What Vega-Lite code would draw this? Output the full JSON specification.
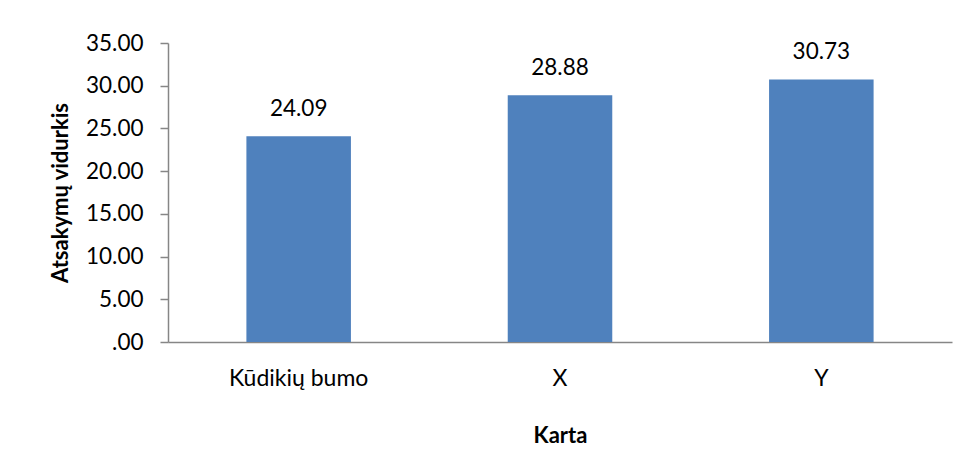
{
  "$schema": "https://vega.github.io/schema/vega-lite/v6.json",
  "width": 784,
  "height": 299,
  "autosize": {"type": "none"},
  "padding": {"left": 168, "top": 43, "right": 15, "bottom": 118},
  "background": "white",
  "config": {
    "view": {"stroke": null},
    "font": "Lato"
  },
  "data": {
    "values": [
      {"Karta": "Kūdikių bumo", "vidurkis": 24.09},
      {"Karta": "X", "vidurkis": 28.88},
      {"Karta": "Y", "vidurkis": 30.73}
    ]
  },
  "encoding": {
    "x": {
      "field": "Karta",
      "type": "nominal",
      "sort": null,
      "scale": {"paddingInner": 0.6, "paddingOuter": 0.3},
      "axis": {
        "title": "Karta",
        "labelAngle": 0,
        "labelFont": "Lato",
        "labelFontSize": 23,
        "labelColor": "#000000",
        "labelBaseline": "alphabetic",
        "labelPadding": 43,
        "ticks": false,
        "tickSize": 0,
        "domainColor": "#868686",
        "domainWidth": 1.5,
        "titleFont": "Lato",
        "titleFontSize": 22,
        "titleFontWeight": "bold",
        "titleColor": "#000000",
        "titleBaseline": "alphabetic",
        "titleY": 100
      }
    },
    "y": {
      "field": "vidurkis",
      "type": "quantitative",
      "scale": {"domain": [0, 35]},
      "axis": {
        "title": "Atsakymų vidurkis",
        "values": [0, 5, 10, 15, 20, 25, 30, 35],
        "labelExpr": "datum.value == 0 ? '.00' : format(datum.value, '.2f')",
        "labelFont": "Lato",
        "labelFontSize": 22.5,
        "labelColor": "#000000",
        "labelPadding": 17,
        "tickSize": 8,
        "tickColor": "#868686",
        "tickWidth": 1.5,
        "domainColor": "#868686",
        "domainWidth": 1.5,
        "grid": false,
        "titleFont": "Lato",
        "titleFontSize": 22,
        "titleFontWeight": "bold",
        "titleColor": "#000000",
        "titleBaseline": "middle",
        "titleX": -108
      }
    }
  },
  "layer": [
    {
      "mark": {"type": "bar", "color": "#4F81BD"}
    },
    {
      "mark": {"type": "text", "baseline": "alphabetic", "align": "center", "dy": -20, "fontSize": 22.5, "font": "Lato", "color": "#000000"},
      "encoding": {
        "text": {"field": "vidurkis", "type": "quantitative", "format": ".2f"}
      }
    }
  ]
}
